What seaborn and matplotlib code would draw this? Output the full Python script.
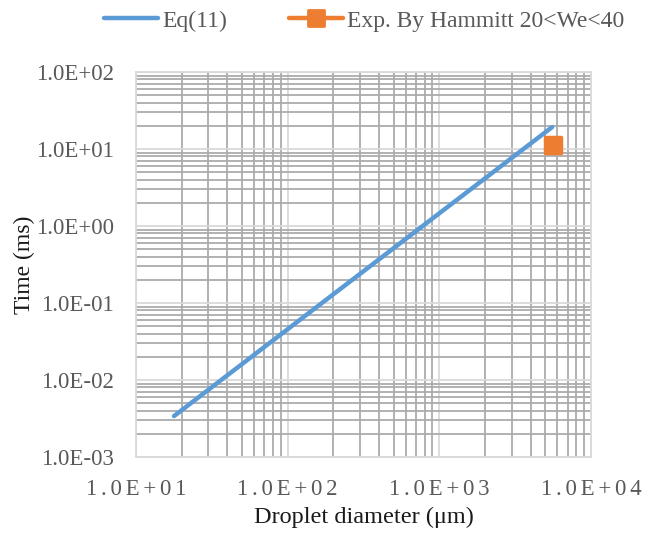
import matplotlib
matplotlib.use("Agg")
import matplotlib.pyplot as plt
from matplotlib.lines import Line2D
from matplotlib.markers import MarkerStyle
from matplotlib.ticker import LogLocator, FixedLocator, NullFormatter
import numpy as np
import pandas as pd
import seaborn as sns

# Eq(11) prediction: break-up time vs droplet diameter (log-log straight line)
eq_diameter_um = [17.8, 5550.0]
eq_time_ms = [0.0034, 19.3]

# Hammitt experiment, 20<We<40
exp_diameter_um = [5600.0]
exp_time_ms = [11.3]

x_ticks = [10, 100, 1000, 10000]
x_tick_labels = ["1.0E+01", "1.0E+02", "1.0E+03", "1.0E+04"]
y_ticks = [1e-3, 1e-2, 1e-1, 1e0, 1e1, 1e2]
y_tick_labels = ["1.0E-03", "1.0E-02", "1.0E-01", "1.0E+00", "1.0E+01", "1.0E+02"]

BLUE = "#5B9BD5"
ORANGE = "#ED7D31"
TICK_GREY = "#595959"

sns.set_theme(style="white")
plt.rcParams["font.family"] = ["Liberation Serif", "DejaVu Serif"]

fig = plt.figure(figsize=(6.46, 5.33), dpi=100)
ax = fig.add_axes([136 / 646, 1 - 457 / 533, 455 / 646, 385 / 533])

eq_df = pd.DataFrame({"d": eq_diameter_um, "t": eq_time_ms})
exp_df = pd.DataFrame({"d": exp_diameter_um, "t": exp_time_ms})

ax.set_xscale("log")
ax.set_yscale("log")

sns.lineplot(data=eq_df, x="d", y="t", ax=ax, color=BLUE, linewidth=3.2,
             solid_capstyle="round", zorder=3, legend=False)

sq = MarkerStyle("s", joinstyle="round")
ax.plot(exp_df["d"], exp_df["t"], linestyle="none", marker=sq, markersize=12,
        markerfacecolor=ORANGE, markeredgecolor=ORANGE, markeredgewidth=2.5,
        zorder=4)

ax.set_xlim(10, 10000)
ax.set_ylim(1e-3, 1e2)

ax.xaxis.set_major_locator(FixedLocator(x_ticks))
ax.yaxis.set_major_locator(FixedLocator(y_ticks))
ax.xaxis.set_minor_locator(LogLocator(base=10, subs=np.arange(2, 10)))
ax.yaxis.set_minor_locator(LogLocator(base=10, subs=np.arange(2, 10)))
ax.xaxis.set_minor_formatter(NullFormatter())
ax.yaxis.set_minor_formatter(NullFormatter())

# letter-spaced x tick labels
spaced = ["\u200a\u200a".join(s) for s in x_tick_labels]
ax.set_xticklabels(spaced, fontsize=16.5, color=TICK_GREY)
ax.set_yticklabels(y_tick_labels, fontsize=16.5, color=TICK_GREY)
ax.tick_params(axis="both", which="both", length=0)
ax.tick_params(axis="x", pad=16)
ax.tick_params(axis="y", pad=16)

ax.grid(True, which="minor", color="#ABABAB", linewidth=1.3, zorder=0)
ax.grid(True, which="major", color="#D9D9D9", linewidth=1.3, zorder=1)
ax.set_axisbelow(True)
for sp in ax.spines.values():
    sp.set_color("#D9D9D9")
    sp.set_linewidth(1.3)

ax.set_xlabel("Droplet diameter (\u03bcm)", fontsize=17.5, color="#1a1a1a")
ax.set_ylabel("Time (ms)", fontsize=17, color="#1a1a1a")
ax.xaxis.set_label_coords(0.5, -0.13)
ax.yaxis.set_label_coords(-0.222, 0.5)

handles = [
    Line2D([], [], color=BLUE, linewidth=3.2, solid_capstyle="round"),
    Line2D([], [], color=ORANGE, linewidth=3.2, solid_capstyle="round",
           marker=sq, markersize=12, markerfacecolor=ORANGE,
           markeredgecolor=ORANGE, markeredgewidth=2.0),
]
fig.legend(handles, ["Eq(11)", "Exp. By Hammitt 20<We<40"], loc="center",
           bbox_to_anchor=(364 / 646, 1 - 21 / 533), ncol=2, frameon=False,
           fontsize=17, handlelength=2.3, handletextpad=0.17,
           columnspacing=2.6, labelcolor=TICK_GREY)

fig.savefig("out.png", dpi=100)
